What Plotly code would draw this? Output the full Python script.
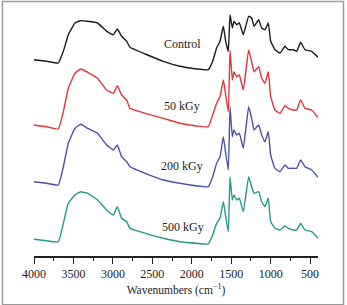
import plotly.graph_objects as go

wavenumber = [4000, 3839, 3692, 3628, 3565, 3480, 3408, 3320, 3195, 3079, 2994, 2944,
              2889, 2825, 2783, 2590, 2361, 2149, 1938, 1790, 1735, 1685, 1642, 1600,
              1570, 1537, 1515, 1486, 1465, 1431, 1397, 1347, 1279, 1241, 1211, 1152,
              1114, 1072, 1030, 1000, 945, 882, 818, 776, 713, 670, 620, 565, 480, 400]

control = [196.3, 194.7, 193, 204.7, 221.3, 233, 235.3, 234.7, 233, 224.7, 221.3, 227,
           219.7, 214.7, 208.7, 202, 194.7, 189.7, 187, 186.3, 194.7, 208, 214.7, 229.7,
           214.7, 204.7, 241.3, 228, 234.7, 231.3, 233, 221.3, 239.7, 238, 229.7, 236.3,
           228, 226.3, 233, 214.7, 206.3, 203, 209.7, 206.3, 206.3, 204.7, 213.7, 206.3, 204.7, 198.7]

kgy50 = [131, 129.3, 127, 144.3, 167.7, 182.7, 187, 183.7, 177.7, 166, 162.7, 170.3,
         161, 156, 147.7, 142.7, 137.7, 132.7, 130, 129.3, 141, 152.7, 159.3, 176,
         161, 144, 206, 176, 184.3, 179.3, 181, 166, 206, 194.3, 184.3, 189.3,
         177.7, 172.7, 184.3, 159.3, 146, 142.7, 150.3, 147.7, 146, 146, 156, 147.7, 146, 138.3]

kgy200 = [74.3, 72.7, 71, 89.3, 112.7, 127.7, 131.7, 127.7, 122.7, 111, 106, 111,
          99.3, 94.3, 89.3, 82.7, 76, 72.7, 70, 69.3, 79.3, 92.7, 99.3, 119.3,
          102.7, 86, 149.3, 119.3, 126, 121, 122.7, 107.7, 149.3, 137.7, 126, 131,
          121, 114.3, 124.3, 101, 87.7, 84.3, 91, 87.7, 87.7, 87.7, 96, 89.3, 86, 78.7]

kgy500 = [16.7, 15.3, 14.3, 32.7, 52.7, 61, 64.3, 62.7, 56, 46, 41, 49.3,
          37.7, 34.3, 27.7, 22.7, 17.7, 14.3, 12.7, 12, 21, 32.7, 37.7, 54.3,
          39.3, 24.3, 79.3, 56, 61, 56, 57.7, 44.3, 79.3, 69.3, 62.7, 64.3,
          54.3, 49.3, 57.7, 34.3, 27.7, 26, 30, 27.7, 26, 26, 32.7, 26, 24.3, 17.7]

series_names = ["Control", "50 kGy", "200 kGy", "500 kGy"]
series_values = [control, kgy50, kgy200, kgy500]
series_colors = ["#1a1a1a", "#e5333b", "#4b52a6", "#23998a"]
label_pos = [(2124, 212), (2124, 150), (2124, 90), (2115, 29)]

fig = go.Figure()
for name, vals, col in zip(series_names, series_values, series_colors):
    fig.add_trace(go.Scatter(x=wavenumber, y=vals, mode="lines", name=name,
                             line=dict(color=col, width=1.4, shape="spline", smoothing=0.35),
                             showlegend=False, hoverinfo="skip"))

for name, (lx, ly) in zip(series_names, label_pos):
    fig.add_annotation(x=lx, y=ly, text=name, showarrow=False,
                       font=dict(family="Liberation Serif", size=12, color="#222"))

fig.add_shape(type="rect", xref="paper", yref="paper",
              x0=-0.111, x1=1.0898, y0=-0.195, y1=1.018,
              line=dict(color="#9a9a9a", width=1.5))

fig.update_layout(
    width=347, height=305,
    margin=dict(l=34, r=29, t=6, b=49),
    paper_bgcolor="white", plot_bgcolor="white",
    font=dict(family="Liberation Serif", size=11, color="#222"),
    xaxis=dict(range=[4000, 400], tickmode="linear", tick0=500, dtick=500,
               ticks="outside", ticklen=6, tickwidth=1.2, tickcolor="#222",
               minor=dict(ticks="outside", ticklen=3, dtick=250, tick0=250, tickcolor="#222", tickwidth=1.2),
               showline=True, linecolor="#222", linewidth=1.5, showgrid=False, zeroline=False,
               tickfont=dict(family="Liberation Serif", size=12, color="#222"),
               title=dict(text="Wavenumbers (cm<sup>−1</sup>)", standoff=6,
                          font=dict(family="Liberation Serif", size=11.5, color="#222"))),
    yaxis=dict(range=[0, 250], visible=False, showgrid=False, zeroline=False),
)

fig.write_html("out.html")
